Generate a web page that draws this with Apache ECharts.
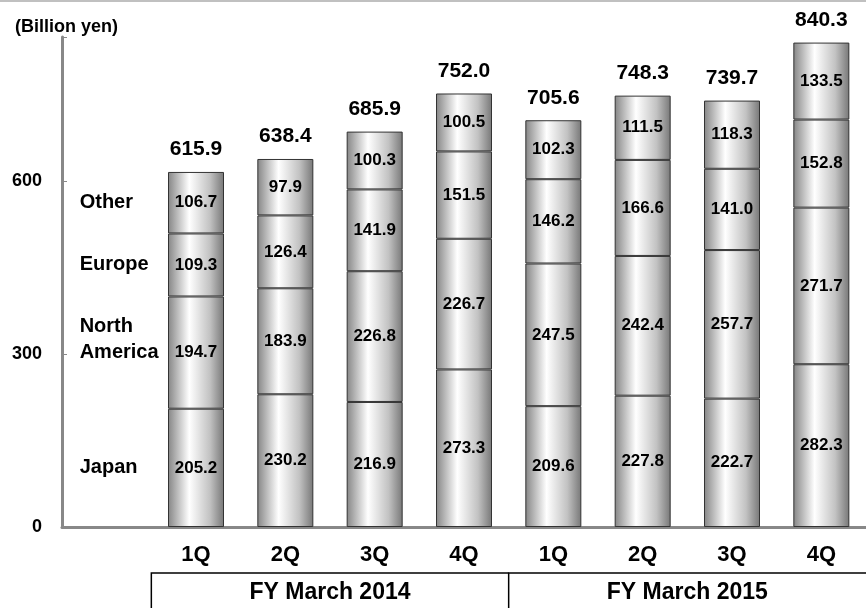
<!DOCTYPE html>
<html>
<head>
<meta charset="utf-8">
<script src="https://cdn.jsdelivr.net/npm/echarts@6/dist/echarts.min.js"></script>
<style>
  html, body { margin: 0; padding: 0; background: #fff; }
  #chart { width: 866px; height: 608px; }
</style>
</head>
<body>
<div id="chart"></div>
<script>
// 数据
var quarters = ['', '1Q', '2Q', '3Q', '4Q', '1Q', '2Q', '3Q', '4Q'];
var fiscalYears = ['FY March 2014', 'FY March 2015'];
var japan = [205.2, 230.2, 216.9, 273.3, 209.6, 227.8, 222.7, 282.3];
var northAmerica = [194.7, 183.9, 226.8, 226.7, 247.5, 242.4, 257.7, 271.7];
var europe = [109.3, 126.4, 141.9, 151.5, 146.2, 166.6, 141.0, 152.8];
var other = [106.7, 97.9, 100.3, 100.5, 102.3, 111.5, 118.3, 133.5];
var totals = [615.9, 638.4, 685.9, 752.0, 705.6, 748.3, 739.7, 840.3];
var yTicks = [0, 300, 600];

var FONT = 'Liberation Sans, Arial, sans-serif';
var myChart = echarts.init(document.getElementById('chart'));

var barFill = new echarts.graphic.LinearGradient(0, 0, 1, 0, [
    { offset: 0, color: '#858585' },
    { offset: 0.38, color: '#ffffff' },
    { offset: 0.75, color: '#c2c2c2' },
    { offset: 1, color: '#777777' }
]);

//每个系列：第一列留空，用于显示地区名称
function makeSeries(name, values, nameOffset) {
    var data = [{
        value: values[0],
        itemStyle: { color: 'transparent', borderWidth: 0 },
        label: {
            formatter: name,
            position: [1, '50%'],
            align: 'left',
            verticalAlign: 'middle',
            fontSize: 20,
            lineHeight: 26,
            offset: [0, nameOffset || 0]
        }
    }];
    values.forEach(function (v) { data.push(v); });
    return {
        name: name,
        type: 'bar',
        stack: 'sales',
        barWidth: 56,
        data: data,
        itemStyle: { color: barFill, borderColor: '#333', borderWidth: 1 },
        label: {
            show: true,
            position: 'inside',
            color: '#000',
            fontFamily: FONT,
            fontWeight: 'bold',
            fontSize: 17,
            formatter: function (p) { return p.value.toFixed(1); }
        },
        emphasis: { disabled: true }
    };
}

var totalData = ['-'];
totals.forEach(function () { totalData.push(0); });

var option = {
    animation: false,
    title: {
        text: '(Billion yen)',
        left: 10,
        top: 13,
        textStyle: { fontFamily: FONT, fontWeight: 'bold', fontSize: 18, color: '#000' }
    },
    grid: { left: 62, right: 0, top: 37, bottom: 81, containLabel: false },
    xAxis: {
        type: 'category',
        data: quarters,
        axisLine: { lineStyle: { color: '#888', width: 3 } },
        axisTick: { show: false },
        axisLabel: {
            margin: 17,
            color: '#000',
            fontFamily: FONT,
            fontWeight: 'bold',
            fontSize: 22
        }
    },
    yAxis: {
        type: 'value',
        min: 0,
        max: 850,
        interval: 300,
        splitLine: { show: false },
        axisLine: { show: true, lineStyle: { color: '#888', width: 3 } },
        axisTick: { show: true, inside: true, length: 5, lineStyle: { color: '#888', width: 1 } },
        axisLabel: {
            margin: 20,
            color: '#000',
            fontFamily: FONT,
            fontWeight: 'bold',
            fontSize: 18,
            formatter: function (v) { return yTicks.indexOf(v) >= 0 ? String(v) : ''; }
        }
    },
    series: [
        makeSeries('Japan', japan),
        makeSeries('North\nAmerica', northAmerica, -13),
        makeSeries('Europe', europe),
        makeSeries('Other', other),
        {
            name: 'Total',
            type: 'bar',
            stack: 'sales',
            barWidth: 56,
            data: totalData,
            itemStyle: { color: 'transparent' },
            label: {
                show: true,
                position: 'top',
                distance: 12,
                color: '#000',
                fontFamily: FONT,
                fontWeight: 'bold',
                fontSize: 21,
                formatter: function (p) { return totals[p.dataIndex - 1].toFixed(1); }
            },
            emphasis: { disabled: true }
        }
    ]
};
myChart.setOption(option);

//下方的年度分组框
var c1 = myChart.convertToPixel({ xAxisIndex: 0 }, 1);
var c2 = myChart.convertToPixel({ xAxisIndex: 0 }, 2);
var band = c2 - c1;
var boxTop = 573;
var boxBottom = 640;
var graphics = [{
    type: 'rect',
    shape: { x: 0, y: 0, width: 866, height: 2 },
    style: { fill: '#c0c0c0' }
}];
fiscalYears.forEach(function (fy, i) {
    var xl = c1 - band / 2 + i * 4 * band;
    var xr = xl + 4 * band;
    graphics.push({
        type: 'polyline',
        shape: { points: [[xl, boxBottom], [xl, boxTop], [xr, boxTop]] },
        style: { stroke: '#000', lineWidth: 1.5, fill: null }
    });
    graphics.push({
        type: 'text',
        x: (xl + xr) / 2,
        y: 593,
        style: {
            text: fy,
            align: 'center',
            verticalAlign: 'middle',
            fill: '#000',
            font: 'bold 23px ' + FONT
        }
    });
});
myChart.setOption({ graphic: graphics });
</script>
</body>
</html>
